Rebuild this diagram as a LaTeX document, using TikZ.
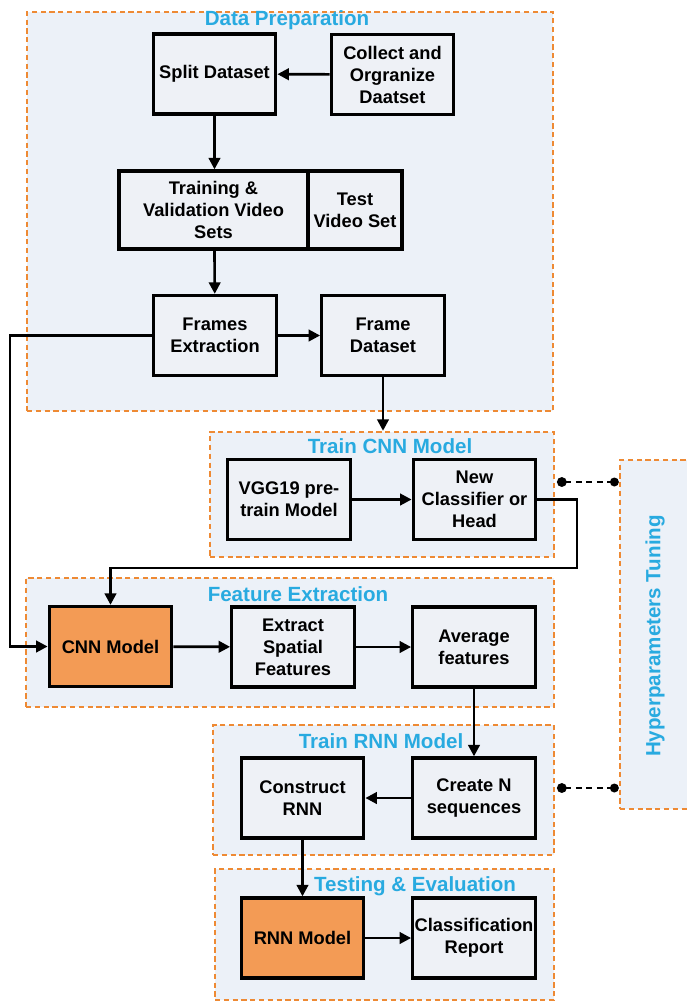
\documentclass[tikz,border=0pt]{standalone}
\usepackage{fontspec}
\setmainfont{Liberation Sans}
\usepackage{tikz}
\usetikzlibrary{arrows.meta}

\definecolor{grpfill}{RGB}{236,241,248}
\definecolor{boxfill}{RGB}{238,241,246}
\definecolor{dashorange}{RGB}{238,138,52}
\definecolor{modelorange}{RGB}{243,155,85}
\definecolor{titleblue}{RGB}{40,170,224}

\begin{document}
\begin{tikzpicture}[x=0.02cm,y=-0.02cm,
    group/.style={draw=dashorange,fill=grpfill,line width=1.4pt,dash pattern=on 3pt off 2pt},
    grptitle/.style={text=titleblue,font=\bfseries\fontsize{11.7}{13}\selectfont,inner sep=0pt},
    box/.style={draw,fill=boxfill,line width=1.9pt,align=center,inner sep=1pt,
      minimum width=2.45cm,minimum height=1.6cm,font=\bfseries\fontsize{10.4}{12.5}\selectfont},
    model/.style={box,fill=modelorange},
    flow/.style={line width=1.5pt,-{Triangle[length=6.5pt,width=6.5pt]}},
    tune/.style={line width=1.6pt,dash pattern=on 3.5pt off 2.5pt,{Circle[length=5.5pt]}-{Circle[length=5pt]}}]
          \path[use as bounding box,clip] (0,0) rectangle (687,1002);
          \node[group,minimum width=10.52cm,minimum height=7.98cm] (prep) at (290,211.5) {};
          \node[group,minimum width=6.88cm,minimum height=2.5cm] (cnntrain) at (382,494.5) {};
          \node[group,minimum width=10.56cm,minimum height=2.58cm] (featx) at (290,642.5) {};
          \node[group,minimum width=6.82cm,minimum height=2.6cm] (rnntrain) at (383.5,790) {};
          \node[group,minimum width=6.78cm,minimum height=2.62cm] (testeval) at (384.5,934.5) {};
          \node[group,minimum width=2cm,minimum height=6.98cm] (hyper) at (670,634.5) {};
          \node[grptitle] (preptitle) at (287,20) {Data Preparation};
          \node[grptitle] (cnntitle) at (390,446) {Train CNN Model};
          \node[grptitle] (featxtitle) at (298,594) {Feature Extraction};
          \node[grptitle] (rnntitle) at (381,741) {Train RNN Model};
          \node[grptitle] (testtitle) at (415,886) {Testing \& Evaluation};
          \node[grptitle,rotate=90] (hypertitle) at (655,636) {Hyperparameters Tuning};
          \node[box] (split) at (214.5,74) {Split Dataset};
          \node[box] (collect) at (392.5,74.5) {Collect and\\Orgranize\\Daatset};
          \node[box,minimum width=3.78cm,minimum height=1.56cm] (trainval) at (213.5,210) {Training \&\\Validation Video\\Sets};
          \node[box,minimum width=1.88cm,minimum height=1.56cm] (testset) at (355,210) {Test\\Video Set};
          \node[box] (frames) at (215,335.5) {Frames\\Extraction};
          \node[box] (framedata) at (383,335.5) {Frame\\Dataset};
          \node[box] (vgg) at (289,499.5) {VGG19 pre-\\train Model};
          \node[box] (newhead) at (474.5,499.5) {New\\Classifier or\\Head};
          \node[model] (cnn) at (110.5,646.5) {CNN Model};
          \node[box] (spatial) at (293,647) {Extract\\Spatial\\Features};
          \node[box] (avg) at (474,647) {Average\\features};
          \node[box] (construct) at (302.5,798) {Construct\\RNN};
          \node[box] (createn) at (474,798) {Create N\\sequences};
          \node[model] (rnn) at (302.5,938) {RNN Model};
          \node[box] (report) at (474,938) {Classification\\Report};
          \coordinate (lft) at (10,646.5);
          \coordinate (fb) at (577,568);
          \coordinate (tunecnn) at (557,482);
          \coordinate (tunernn) at (557,788);
          \draw[flow] (collect) -- (split);
          \draw[flow] (split) -- (split |- trainval.north);
          \draw[flow] (split |- trainval.south) -- (frames);
          \draw[flow] (frames) -- (framedata);
          \draw[flow] (framedata) -- (framedata |- cnntrain.north);
          \draw[flow] (vgg) -- (newhead);
          \draw[flow] (newhead.east) -| (fb) -| (cnn.north);
          \draw[flow] (frames.west) -| (lft) -- (cnn.west);
          \draw[flow] (cnn) -- (spatial);
          \draw[flow] (spatial) -- (avg);
          \draw[flow] (avg) -- (createn);
          \draw[flow] (createn) -- (construct);
          \draw[flow] (construct) -- (rnn);
          \draw[flow] (rnn) -- (report);
          \draw[tune] (tunecnn) -- (tunecnn -| hyper.west);
          \draw[tune] (tunernn) -- (tunernn -| hyper.west);
        \end{tikzpicture}
\end{document}
